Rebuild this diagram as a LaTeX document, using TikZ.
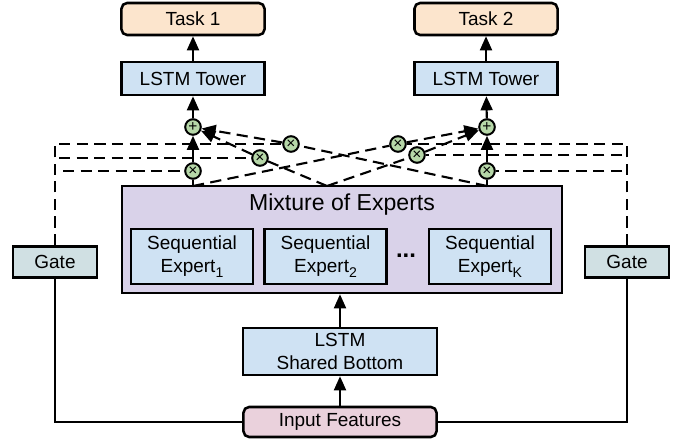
\documentclass[tikz,border=0pt]{standalone}
\usepackage{fontspec}
\setmainfont{Liberation Sans}
\usetikzlibrary{positioning,arrows.meta}
\definecolor{taskfill}{HTML}{FCE5CD}
\definecolor{towerfill}{HTML}{CFE2F3}
\definecolor{moefill}{HTML}{D9D2E9}
\definecolor{gatefill}{HTML}{D0E0E3}
\definecolor{inputfill}{HTML}{EAD1DC}
\definecolor{opfill}{HTML}{B6D7A8}
\newcommand{\sub}[1]{\raisebox{-0.45ex}{\fontsize{10}{10}\selectfont #1}}
\tikzset{box/.style={draw, line width=1.8pt, inner sep=0pt, align=center, font=\fontsize{13.5}{16.3}\selectfont}}
\tikzset{task/.style={box, rounded corners=4, fill=taskfill, minimum width=3.575cm, minimum height=0.8cm}}
\tikzset{tower/.style={box, fill=towerfill, minimum width=3.575cm, minimum height=0.825cm}}
\tikzset{gatebox/.style={box, fill=gatefill, minimum width=2.1cm, minimum height=0.775cm}}
\tikzset{expert/.style={box, fill=towerfill, minimum width=3.05cm, minimum height=1.375cm}}
\tikzset{op/.style={circle, draw, line width=1.4pt, fill=opfill, inner sep=0pt, minimum size=0.39cm, font=\fontsize{11}{11}\selectfont}}
\tikzset{wire/.style={draw, line width=1.5pt}}
\tikzset{dwire/.style={wire, dash pattern=on 8pt off 4.5pt}}
\tikzset{arr/.style={wire, -{Triangle[length=10pt,width=8.5pt]}}}
\tikzset{darr/.style={dwire, -{Triangle[length=10pt,width=8.5pt]}}}

\begin{document}
\begin{tikzpicture}[x=0.025cm, y=-0.025cm]
	\useasboundingbox (0,0) rectangle (685,439);
	% towers and tasks
	\node[task] (task1) at (193,19) {Task 1};
	\node[task] (task2) at (486,19) {Task 2};
	\node[tower] (tower1) at (193,78.5) {LSTM Tower};
	\node[tower] (tower2) at (486,78.5) {LSTM Tower};
	% mixture of experts
	\node[box, fill=moefill, minimum width=11cm, minimum height=2.675cm] (moe) at (342,239.5) {};
	\node[font=\fontsize{16.4}{18}\selectfont] (moetitle) at (342,205) {Mixture of Experts};
	\node[expert] (e1) at (192,256.5) {Sequential\\Expert\sub{1}};
	\node[expert, right=0.225cm of e1] (e2) {Sequential\\Expert\sub{2}};
	\node[expert] (ek) at (490,256.5) {Sequential\\Expert\sub{K}};
	\node[font=\fontsize{17}{17}\selectfont\bfseries] (dots) at (406,256) {...};
	\coordinate (o1) at (193,186);
	\coordinate (o2) at (327,186);
	\coordinate (ok) at (487,186);
	% shared bottom and input
	\node[box, fill=towerfill, minimum width=4.85cm, minimum height=1.175cm] (sb) at (340,351.5) {LSTM\\Shared Bottom};
	\node[box, rounded corners=4, fill=inputfill, minimum width=4.825cm, minimum height=0.75cm] (inp) at (340,422) {Input Features};
	% gates
	\node[gatebox] (g1) at (55,262) {Gate};
	\node[gatebox] (g2) at (627,262) {Gate};
	% weighting and summing
	\node[op] (p1) at (193,127) {+};
	\node[op] (p2) at (487,127) {+};
	\node[op] (a1) at (193,171) {×};
	\node[op] (b1) at (260,158) {×};
	\node[op] (c1) at (291,144) {×};
	\node[op] (a2) at (487,171) {×};
	\node[op] (b2) at (417,155) {×};
	\node[op] (c2) at (398,144) {×};
	\coordinate (l1) at (55,144);
	\coordinate (l2) at (59,158);
	\coordinate (l3) at (63,171);
	\coordinate (r1) at (627,144);
	\coordinate (r2) at (622,155);
	\coordinate (r3) at (622,171);

	\draw[arr] (inp) -- (sb);
	\draw[arr] (sb) -- (moe.south -| sb);
	\draw[wire] (g1.south) |- (inp.west);
	\draw[wire] (g2.south) |- (inp.east);
	% gate outputs
	\draw[dwire] (g1.north) -- (l1) -- (c1);
	\draw[dwire] (l2) -- (b1);
	\draw[dwire] (l3) -- (a1);
	\draw[dwire] (g2.north) -- (r1) -- (c2);
	\draw[dwire] (r2) -- (b2);
	\draw[dwire] (r3) -- (a2);
	% expert outputs
	\draw[wire] (o1) -- (a1);
	\draw[wire] (ok) -- (a2);
	\draw[dwire] (o1) -- (c2);
	\draw[dwire] (o2) -- (b1);
	\draw[dwire] (o2) -- (b2);
	\draw[dwire] (ok) -- (c1);
	\draw[darr] (b1) -- (p1);
	\draw[darr] (c1) -- (p1);
	\draw[darr] (b2) -- (p2);
	\draw[darr] (c2) -- (p2);
	\draw[arr] (a1) -- (p1);
	\draw[arr] (a2) -- (p2);
	\draw[arr] (p1) -- (tower1);
	\draw[arr] (p2) -- (tower2);
	\draw[arr] (tower1) -- (task1);
	\draw[arr] (tower2) -- (task2);
\end{tikzpicture}
\end{document}
